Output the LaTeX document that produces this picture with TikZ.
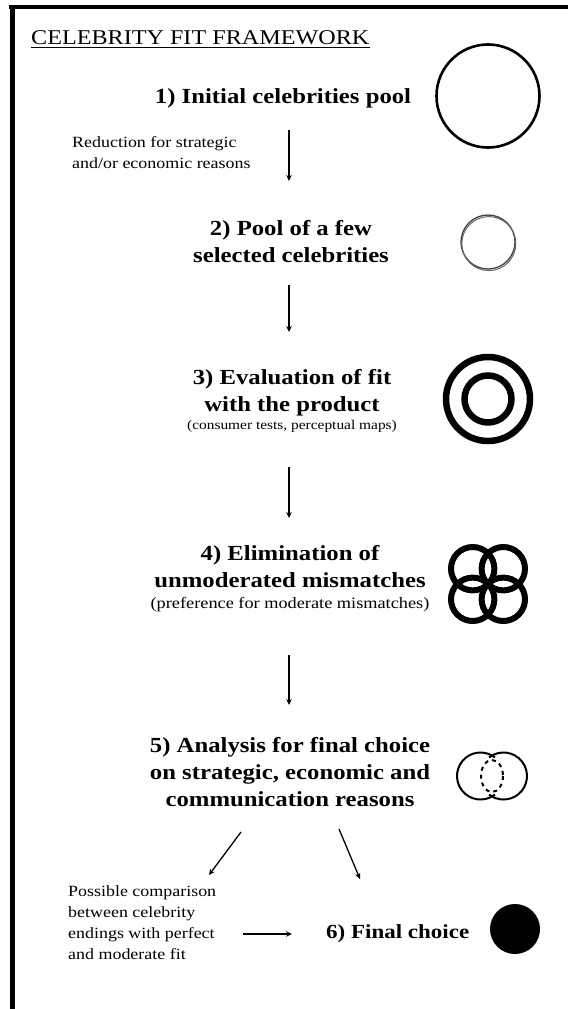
\documentclass[tikz,border=0pt]{standalone}
\usepackage{fontspec}
\setmainfont{Liberation Serif}[FakeStretch=1.15]
\usetikzlibrary{arrows.meta}
\begin{document}
\begin{tikzpicture}[x=1pt,y=-1pt,
  head/.style={font=\bfseries\fontsize{21.5pt}{27pt}\selectfont, align=center, inner sep=0pt},
  subnote/.style={font=\fontsize{13.4pt}{16pt}\selectfont, inner sep=0pt},
  subnotebig/.style={font=\fontsize{15.9pt}{19pt}\selectfont, inner sep=0pt},
  smalltext/.style={font=\fontsize{15.6pt}{21pt}\selectfont, align=left, inner sep=0pt},
  titletext/.style={font=\fontsize{21pt}{25pt}\selectfont, inner sep=0pt},
  arr/.style={-{Stealth[length=6pt,width=5.5pt]}, line width=1.3pt},
  frame/.style={line width=4.5pt},
  ring/.style={line width=2.6pt},
  thickring/.style={line width=6.5pt},
  flowerring/.style={line width=6pt},
  vennline/.style={line width=2pt}
]
\useasboundingbox (0,0) rectangle (568,1009);
% frame
\draw[frame] (9,7) -- (568,7);
\draw[frame] (12.5,4.75) -- (12.5,1009);
% title
\node[titletext, anchor=base west] (title) at (31,44) {CELEBRITY FIT FRAMEWORK};
\draw[line width=1.1pt] ([yshift=-3.5pt]title.base west) -- ([yshift=-3.5pt]title.base east);

% step 1
\node[head, anchor=base] (h1) at (283,103) {1) Initial celebrities pool};
\node[ring, draw, circle, minimum size=103pt, inner sep=0pt] (c1) at (488,96) {};
\node[smalltext, anchor=north west] (r1) at (72,136) {Reduction for strategic\\and/or economic reasons};
\coordinate (a1s) at (289,130);
\coordinate (a1e) at (289,181);
\draw[arr] (a1s) -- (a1e);

% step 2
\node[head, anchor=north] (h2) at (291,220) {2) Pool of a few\\selected celebrities};
\node[draw=black!75, line width=1.3pt, circle, minimum size=54pt, inner sep=0pt] (c2a) at (488,242) {};
\node[draw=black!60, line width=1pt, circle, minimum size=54pt, inner sep=0pt] (c2b) at (488.8,243.6) {};
\coordinate (a2s) at (289,285);
\coordinate (a2e) at (289,332);
\draw[arr] (a2s) -- (a2e);

% step 3
\node[head, anchor=north] (h3) at (292,369) {3) Evaluation of fit\\with the product};
\node[subnote, anchor=base] (s3) at (292,429) {(consumer tests, perceptual maps)};
\node[thickring, draw, circle, minimum size=84pt, inner sep=0pt] (c3o) at (488,399) {};
\node[thickring, draw, circle, minimum size=47pt, inner sep=0pt] (c3i) at (488,399) {};
\coordinate (a3s) at (289,467);
\coordinate (a3e) at (289,518);
\draw[arr] (a3s) -- (a3e);

% step 4
\node[head, anchor=north] (h4) at (290,545) {4) Elimination of\\unmoderated mismatches};
\node[subnotebig, anchor=base] (s4) at (290,608) {(preference for moderate mismatches)};
\coordinate (f4) at (488,584);
\foreach \dx/\dy [count=\i] in {-15.3/-15.3, 15.3/-15.3, -15.3/15.3, 15.3/15.3}
  \node[flowerring, draw, circle, minimum size=43.4pt, inner sep=0pt] (fl\i) at ([shift={(\dx,\dy)}]f4) {};
\coordinate (a4s) at (289,655);
\coordinate (a4e) at (289,705);
\draw[arr] (a4s) -- (a4e);

% step 5
\node[head, anchor=north] (h5) at (290,737) {5) Analysis for final choice\\on strategic, economic and\\communication reasons};
\coordinate (v5) at (492,776);
\draw[vennline] ([shift={(-11.5,0)}]v5) ++(52:23.5) arc[start angle=52, end angle=308, radius=23.5];
\draw[vennline] ([shift={(11.5,0)}]v5) ++(-128:23.5) arc[start angle=-128, end angle=128, radius=23.5];
\draw[vennline, dash pattern=on 4pt off 4pt] (v5) ellipse[x radius=11, y radius=16];

% branches
\coordinate (b1s) at (241,832);
\coordinate (b1e) at (209,875);
\draw[arr] (b1s) -- (b1e);
\coordinate (b2s) at (339,829);
\coordinate (b2e) at (360,879);
\draw[arr] (b2s) -- (b2e);

\node[smalltext, anchor=north west] (p6) at (68,885) {Possible comparison\\between celebrity\\endings with perfect\\and moderate fit};
\node[head, font=\bfseries\fontsize{20pt}{24pt}\selectfont, anchor=base west] (h6) at (326,938) {6) Final choice};
\coordinate (a6s) at (243,934);
\coordinate (a6e) at (292,934);
\draw[arr] (a6s) -- (a6e);
\node[fill=black, circle, minimum size=50pt, inner sep=0pt] (c6) at (515,929) {};
\end{tikzpicture}
\end{document}
